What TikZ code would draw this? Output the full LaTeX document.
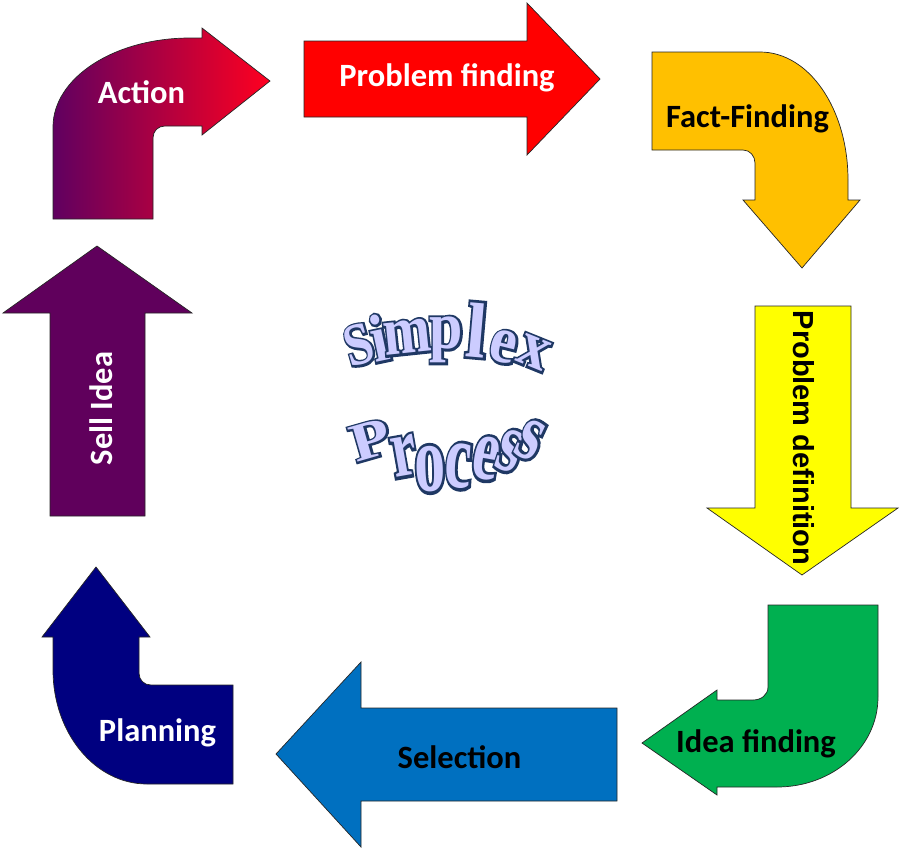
\documentclass[tikz,border=0pt]{standalone}
\usepackage{fontspec}
\newfontfamily\labfont{Carlito}
\newfontfamily\defnfont{Liberation Sans}
\newfontfamily\wafam{Liberation Serif}
\newfontfamily\waoutfam{Liberation Serif}[BoldFeatures={FakeBold=7}]
\definecolor{actL}{RGB}{96,0,96}
\definecolor{actR}{RGB}{255,0,32}
\definecolor{pfred}{RGB}{255,0,0}
\definecolor{ffgold}{RGB}{255,192,0}
\definecolor{pdyel}{RGB}{255,255,0}
\definecolor{ifgreen}{RGB}{0,176,80}
\definecolor{selblue}{RGB}{0,112,192}
\definecolor{plnavy}{RGB}{0,0,128}
\definecolor{sipurple}{RGB}{96,0,92}
\definecolor{walav}{RGB}{204,204,255}
\definecolor{wanavy}{RGB}{31,56,100}
\tikzset{
  arrowshape/.style={draw=black!85, line width=0.7pt, line join=miter},
  lbl/.style={font=\labfont\bfseries\fontsize{32.5}{38}\selectfont, inner sep=0pt},
  wabase/.style={inner sep=0pt, anchor=center, transform shape},
  waoutstyle/.style={wabase, text=wanavy, font=\fontsize{60}{64}\selectfont\waoutfam\bfseries},
  wainstyle/.style={wabase, text=walav, font=\fontsize{60}{64}\selectfont\wafam\bfseries}
}
% word-art letter: name, x, y, rotation, xscale, yscale, character
\newcommand\waltr[7]{%
  \node[waoutstyle, rotate=#4, xscale=#5, yscale=#6] (#1o) at (#2,#3) {#7};
  \node[wainstyle, rotate=#4, xscale=#5, yscale=#6] (#1) at (#2,#3) {#7};}
\begin{document}
\begin{tikzpicture}[x=1pt, y=-1pt]
\useasboundingbox (0,0) rectangle (900,849);

% Action (bent arrow, up then right)
\draw[arrowshape, left color=actL, right color=actR]
  (53,219) -- (53,127) .. controls (53,78) and (114,38) .. (190,38)
  -- (202,38) -- (202,28) -- (270,81) -- (202,135) -- (202,126)
  -- (165,126) .. controls (158,126) and (153,131) .. (153,138)
  -- (153,219) -- cycle;
\node[lbl, text=white] (action) at (141.5,92) {Action};

% Problem finding
\draw[arrowshape, fill=pfred]
  (304,41) -- (527,41) -- (527,3) -- (600,79) -- (527,155) -- (527,117) -- (304,117) -- cycle;
\node[lbl, text=white] (pfind) at (447,78) {Problem finding};

% Fact-Finding (bent arrow, right then down)
\draw[arrowshape, fill=ffgold]
  (652,52) -- (760,52) .. controls (809,52) and (848,109) .. (848,180)
  -- (848,200) -- (860,200) -- (802,268) -- (743,200) -- (755,200)
  -- (755,163) .. controls (755,156) and (750,150) .. (743,150)
  -- (652,150) -- cycle;
\node[lbl, text=black] (fact) at (747.5,118.5) {Fact-Finding};

% Problem definition
\draw[arrowshape, fill=pdyel]
  (755,306) -- (851,306) -- (851,508) -- (898,508) -- (802,575) -- (707,508) -- (755,508) -- cycle;
\node[font=\defnfont\bfseries\fontsize{29}{34}\selectfont, inner sep=0pt, rotate=-90] (pdef) at (804,438) {Problem definition};

% Idea finding (bent arrow, down then left)
\draw[arrowshape, fill=ifgreen]
  (768,605) -- (878,605) -- (878,697) .. controls (878,747) and (833,787) .. (777,787)
  -- (717,787) -- (717,795) -- (642,743) -- (717,690) -- (717,700)
  -- (753,700) .. controls (761,700) and (768,695) .. (768,687)
  -- cycle;
\node[lbl, text=black] (idea) at (756,743.5) {Idea finding};

% Selection
\draw[arrowshape, fill=selblue]
  (617,708) -- (361,708) -- (361,662) -- (276,754) -- (361,847) -- (361,801) -- (617,801) -- cycle;
\node[lbl, text=black] (sel) at (459.5,757.5) {Selection};

% Planning (bent arrow, left then up)
\draw[arrowshape, fill=plnavy]
  (96,567) -- (150,637) -- (139,637) -- (139,673)
  .. controls (139,680) and (144,685) .. (151,685)
  -- (233,685) -- (233,784) -- (147,784)
  .. controls (95,784) and (53,733) .. (53,670)
  -- (53,637) -- (42,637) -- cycle;
\node[lbl, text=white] (plan) at (157.5,732.5) {Planning};

% Sell Idea
\draw[arrowshape, fill=sipurple]
  (50,516) -- (50,313) -- (3,313) -- (97,246) -- (192,313) -- (145,313) -- (145,516) -- cycle;
\node[lbl, text=white, rotate=90] (sell) at (101,408.5) {Sell Idea};

% Simplex (word art)
\waltr{s1}{359}{345}{16}{0.85}{1.0}{S}
\waltr{s2}{379}{338}{12}{1}{1.12}{i}
\waltr{s3}{407.5}{337}{6}{0.95}{1.15}{m}
\waltr{s4}{446.5}{340}{0}{1}{1.12}{p}
\waltr{s5}{477}{330}{-5}{1.2}{1.3}{l}
\waltr{s6}{503.5}{347}{-14}{1}{1.12}{e}
\waltr{s7}{533.5}{352.5}{-22}{1}{1.08}{x}
% Process (word art)
\waltr{p1}{371}{440}{16}{1.08}{0.9}{P}
\waltr{p2}{404}{456}{10}{0.95}{1.4}{r}
\waltr{p3}{430}{469}{2}{1.03}{1.58}{o}
\waltr{p4}{458.5}{466}{-4}{1}{1.55}{c}
\waltr{p5}{486}{458.5}{-10}{1}{1.5}{e}
\waltr{p6}{510}{451}{-18}{1}{1.45}{s}
\waltr{p7}{530.5}{440}{-25}{1}{1.38}{s}
\end{tikzpicture}
\end{document}
